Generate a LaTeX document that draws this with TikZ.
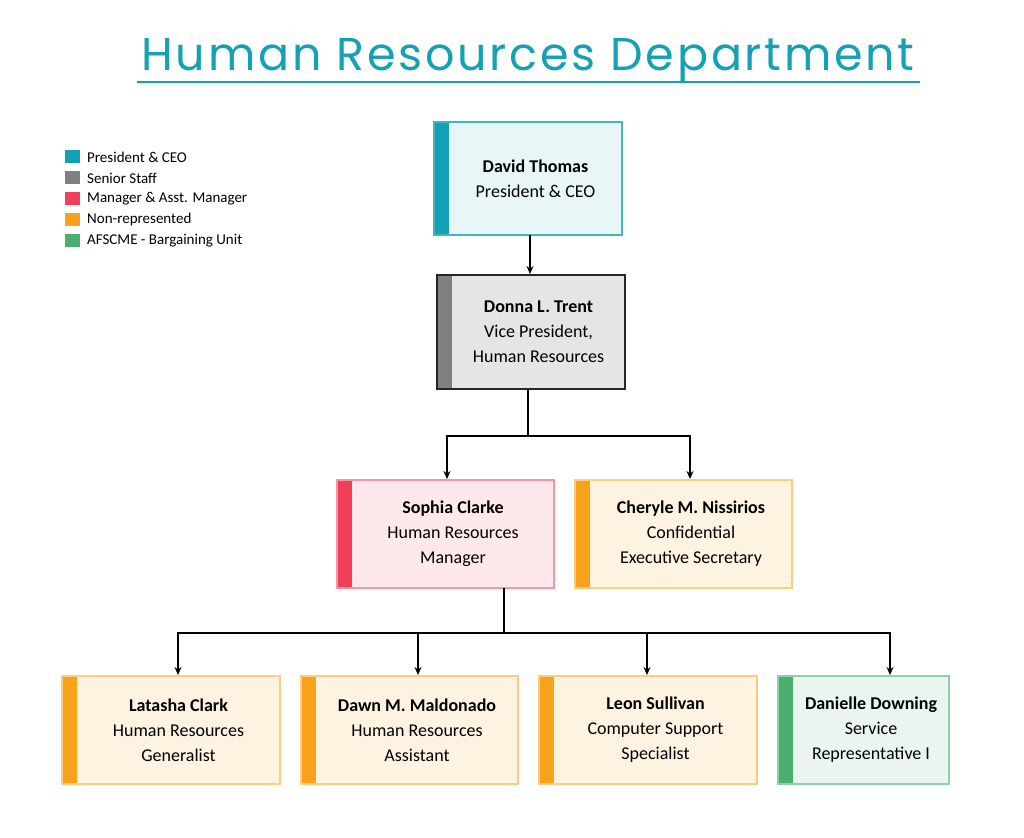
\documentclass[tikz,border=0pt]{standalone}
\usepackage{fontspec}
\setmainfont{Carlito}
\newfontfamily\titlefont[LetterSpace=6]{Poppins}
\usetikzlibrary{arrows.meta}
\definecolor{cteal}{HTML}{14A1B3}
\definecolor{cgray}{HTML}{808080}
\definecolor{cred}{HTML}{EF4058}
\definecolor{corange}{HTML}{F8A21C}
\definecolor{cgreen}{HTML}{4BAE6E}
\begin{document}
\begin{tikzpicture}[x=1pt,y=-1pt,
  lbl/.style={font=\fontsize{18}{25}\selectfont,align=center,inner sep=0},
  conn/.style={line width=1.3pt,-{Stealth[length=8pt,width=7pt]}},
  line/.style={line width=1.3pt},
  leg/.style={font=\fontsize{15}{15}\selectfont,anchor=west,inner sep=0}]
\useasboundingbox[fill=white] (0,0) rectangle (1024,837);
% title
\node[font=\titlefont\fontsize{46}{46}\selectfont,text=cteal,inner sep=0] (title) at (528,60) {Human Resources Department};
\draw[cteal,line width=2pt] (137,82) -- (920,82);
% legend
\foreach \c/\t [count=\i from 0] in {cteal/President \& CEO,cgray/Senior Staff,cred/Manager \& Asst. Manager,corange/Non-represented,cgreen/AFSCME - Bargaining Unit}{
  \fill[\c] (65,{150+21*\i}) rectangle (80,{163+21*\i});
  \node[leg] (leg\i) at (87,{157+21*\i}) {\t};
}
% boxes: \box{name}{x1}{y1}{x2}{y2}{bar}{fill}{border}{text}
\newcommand\orgbox[9]{%
  \fill[#7] (#2,#3) rectangle (#4,#5);
  \fill[#6] (#2,#3) rectangle ({#2+15},#5);
  \draw[#8,line width=1.5pt] (#2,#3) rectangle (#4,#5);
  \node[lbl,minimum width={#4-#2-15},minimum height={#5-#3}] (#1) at ({(#2+15+#4)/2},{(#3+#5)/2}) {#9};
}
\orgbox{david}{434}{122}{622}{235}{cteal}{cteal!10}{cteal!80}{\textbf{David Thomas}\\President \& CEO}
\orgbox{donna}{437}{275}{625}{389}{cgray}{black!10}{black!85}{\textbf{Donna L. Trent}\\Vice President,\\Human Resources}
\orgbox{sophia}{337}{480}{554}{588}{cred}{cred!12}{cred!55}{\textbf{Sophia Clarke}\\Human Resources\\Manager}
\orgbox{cheryle}{575}{480}{792}{588}{corange}{corange!13}{corange!55}{\textbf{Cheryle M. Nissirios}\\Confidential\\Executive Secretary}
\orgbox{latasha}{62}{676}{280}{784}{corange}{corange!13}{corange!55}{\textbf{Latasha Clark}\\Human Resources\\Generalist}
\orgbox{dawn}{301}{676}{518}{784}{corange}{corange!13}{corange!55}{\textbf{Dawn M. Maldonado}\\Human Resources\\Assistant}
\orgbox{leon}{539}{676}{757}{784}{corange}{corange!13}{corange!55}{\textbf{Leon Sullivan}\\Computer Support\\Specialist}
\orgbox{danielle}{778}{676}{949}{784}{cgreen}{cgreen!12}{cgreen!60}{\textbf{Danielle Downing}\\Service\\Representative I}
% connectors
\coordinate (j1) at (528,436);
\coordinate (j2) at (504,633);
\draw[conn] (530,235) -- (530,274);
\draw[line] (528,389) -- (j1);
\draw[conn] (j1) -| (447,479);
\draw[conn] (j1) -| (690,479);
\draw[line] (504,588) -- (j2);
\draw[conn] (j2) -| (178,675);
\draw[conn] (j2) -| (418,675);
\draw[conn] (j2) -| (647,675);
\draw[conn] (j2) -| (890,675);
\end{tikzpicture}
\end{document}
